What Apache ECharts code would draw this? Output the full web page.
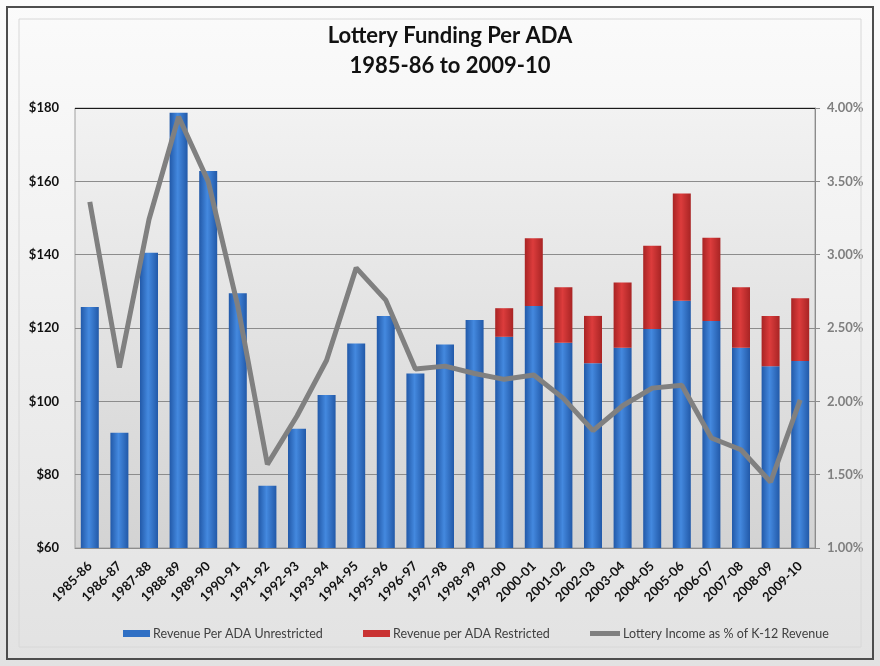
<!DOCTYPE html>
<html>
<head>
<meta charset="utf-8">
<script src="https://cdn.jsdelivr.net/npm/echarts@6/dist/echarts.min.js"></script>
<style>
html,body{margin:0;padding:0;background:#fff;}
#chart{width:880px;height:666px;}
</style>
</head>
<body>
<div id="chart"></div>
<script>
var categories = ['1985-86','1986-87','1987-88','1988-89','1989-90','1990-91','1991-92','1992-93','1993-94','1994-95','1995-96','1996-97','1997-98','1998-99','1999-00','2000-01','2001-02','2002-03','2003-04','2004-05','2005-06','2006-07','2007-08','2008-09','2009-10'];
var unrestricted = [125.7, 91.4, 140.5, 178.7, 162.8, 129.5, 77.0, 92.5, 101.7, 115.8, 123.3, 107.6, 115.5, 122.2, 117.6, 126.0, 116.0, 110.4, 114.6, 119.7, 127.4, 121.9, 114.6, 109.6, 111.0];
var restricted = [null, null, null, null, null, null, null, null, null, null, null, null, null, null, 7.8, 18.5, 15.1, 12.9, 17.8, 22.7, 29.3, 22.7, 16.5, 13.7, 17.1];
var lotteryPct = [3.36, 2.23, 3.24, 3.94, 3.50, 2.65, 1.57, 1.90, 2.28, 2.91, 2.69, 2.22, 2.24, 2.19, 2.15, 2.18, 2.02, 1.80, 1.97, 2.09, 2.11, 1.75, 1.67, 1.45, 2.01];
var leftTicks = {min: 60, max: 180, interval: 20};
var rightTicks = {min: 1, max: 4, interval: 0.5};
var titleLines = ['Lottery Funding Per ADA', '1985-86 to 2009-10'];
var seriesNames = ['Revenue Per ADA Unrestricted', 'Revenue per ADA Restricted', 'Lottery Income as % of K-12 Revenue'];

var FONT = 'Lato, "Open Sans", sans-serif';
var chart = echarts.init(document.getElementById('chart'), null, {renderer: 'canvas'});

function hGrad(edge, mid) {
  return new echarts.graphic.LinearGradient(0, 0, 1, 0, [
    {offset: 0, color: edge},
    {offset: 0.45, color: mid},
    {offset: 1, color: edge}
  ]);
}

var legendBase = {
  top: 622, itemWidth: 27, itemHeight: 7, itemGap: 4,
  textStyle: {fontFamily: FONT, fontSize: 12.5, color: '#404040', padding: [0,0,0,-2]},
  icon: 'rect'
};

var splitColors = [];
for (var v = leftTicks.min; v <= leftTicks.max; v += leftTicks.interval) {
  splitColors.push(v === leftTicks.max ? '#1a1a1a' : '#8c8c8c');
}

var option = {
  animation: false,
  backgroundColor: new echarts.graphic.LinearGradient(0, 0, 0, 1, [
    {offset: 0, color: '#fbfbfb'},
    {offset: 1, color: '#e2e2e2'}
  ]),
  graphic: [
    {type: 'rect', shape: {x: 7, y: 7, width: 866, height: 652}, style: {fill: 'none', stroke: '#4d4d4d', lineWidth: 2}, z: 100},
    {type: 'rect', shape: {x: 19, y: 19, width: 842, height: 628}, style: {fill: 'none', stroke: '#d8d8d8', lineWidth: 1}, z: 100},
    {type: 'text', x: 450, y: 21, style: {text: titleLines.join('\n'), font: 'bold 22px ' + FONT, fill: '#111', align: 'center', verticalAlign: 'top', lineHeight: 30}}
  ],
  grid: {
    left: 75, right: 65, top: 108, bottom: 118,
    show: true,
    borderColor: '#a0a0a0', borderWidth: 1,
    backgroundColor: new echarts.graphic.LinearGradient(0, 0, 0, 1, [
      {offset: 0, color: '#f2f2f2'},
      {offset: 1, color: '#d3d3d3'}
    ])
  },
  legend: [
    Object.assign({}, legendBase, {left: 118, data: [{name: seriesNames[0], itemStyle: {color: '#2f6fc4'}}]}),
    Object.assign({}, legendBase, {left: 358, data: [{name: seriesNames[1], itemStyle: {color: '#c93232'}}]}),
    Object.assign({}, legendBase, {left: 585, itemHeight: 5, itemWidth: 30, data: [{name: seriesNames[2], icon: 'rect', itemStyle: {color: '#808080'}}]})
  ],
  xAxis: {
    type: 'category',
    data: categories,
    boundaryGap: true,
    axisLine: {show: true, lineStyle: {color: '#8c8c8c'}},
    axisTick: {show: false},
    axisLabel: {interval: 0, rotate: 45, fontFamily: FONT, fontWeight: 'bold', fontSize: 13, color: '#111', margin: 16}
  },
  yAxis: [
    {
      type: 'value', min: leftTicks.min, max: leftTicks.max, interval: leftTicks.interval,
      axisLine: {show: false}, axisTick: {show: false},
      axisLabel: {formatter: function (v) { return '$' + v; }, fontFamily: FONT, fontWeight: 'bold', fontSize: 13, color: '#111', margin: 16},
      splitLine: {show: true, lineStyle: {color: splitColors, width: 1}}
    },
    {
      type: 'value', min: rightTicks.min, max: rightTicks.max, interval: rightTicks.interval,
      position: 'right',
      axisLine: {show: true, lineStyle: {color: '#8c8c8c'}},
      axisTick: {show: true, inside: false, length: 5, lineStyle: {color: '#8c8c8c'}},
      axisLabel: {formatter: function (v) { return v.toFixed(2) + '%'; }, fontFamily: FONT, fontWeight: 'bold', fontSize: 13, color: '#7f7f7f', margin: 12},
      splitLine: {show: false}
    }
  ],
  series: [
    {
      name: seriesNames[0], type: 'bar', stack: 'ada', data: unrestricted, barWidth: 18,
      itemStyle: {color: hGrad('#2259a8', '#4489df')}
    },
    {
      name: seriesNames[1], type: 'bar', stack: 'ada', data: restricted, barWidth: 18,
      itemStyle: {color: hGrad('#a82424', '#dc3c3c')}
    },
    {
      name: seriesNames[2], type: 'line', yAxisIndex: 1, data: lotteryPct,
      symbol: 'none', lineStyle: {color: '#808080', width: 5}, itemStyle: {color: '#808080'}, z: 5
    }
  ]
};
chart.setOption(option);
</script>
</body>
</html>
